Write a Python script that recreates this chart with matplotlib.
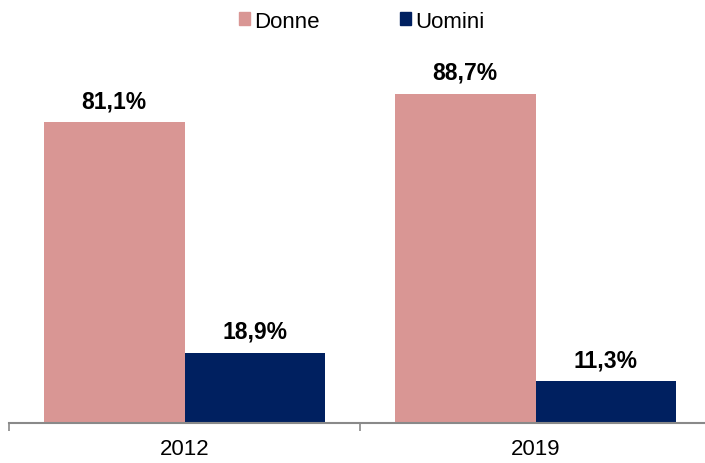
import matplotlib
matplotlib.use("Agg")
import matplotlib.pyplot as plt
import numpy as np
from matplotlib.patches import Patch

categories = ["2012", "2019"]
donne = [81.1, 88.7]
uomini = [18.9, 11.3]
labels_donne = ["81,1%", "88,7%"]
labels_uomini = ["18,9%", "11,3%"]

plt.rcParams['font.family'] = ['Liberation Sans', 'DejaVu Sans']

fig = plt.figure(figsize=(7.05, 4.64), dpi=100)
ax = fig.add_axes([9/705, 1-424/464, 702/705, 371/464])

x = np.arange(len(categories))
w = 0.4
c1, c2 = "#D99694", "#002060"
ax.bar(x - w/2, donne, w, color=c1)
ax.bar(x + w/2, uomini, w, color=c2)

for xi, v, t in zip(x - w/2, donne, labels_donne):
    ax.annotate(t, (xi, v), xytext=(0, 10), textcoords="offset pixels",
                ha="center", va="bottom", fontsize=16.5, fontweight="bold")
for xi, v, t in zip(x + w/2, uomini, labels_uomini):
    ax.annotate(t, (xi, v), xytext=(0, 10), textcoords="offset pixels",
                ha="center", va="bottom", fontsize=16.5, fontweight="bold")

ax.set_xlim(-0.5, 1.5)
ax.set_ylim(0, 100)
for s in ["top", "right", "left"]:
    ax.spines[s].set_visible(False)
ax.spines["bottom"].set_color("#898989")
ax.spines["bottom"].set_linewidth(1.5)
ax.set_yticks([])
ax.set_xticks([-0.5, 0.5, 1.5])
ax.set_xticklabels([])
ax.set_xticks(x, minor=True)
ax.set_xticklabels(categories, minor=True, fontsize=16)
ax.tick_params(axis="x", which="major", length=6, color="#898989", width=1.2)
ax.tick_params(axis="x", which="minor", length=0, pad=11)

handles = [Patch(color=c1, label="Donne"), Patch(color=c2, label="Uomini")]
fig.legend(handles=handles, loc="center", bbox_to_anchor=(362/705, 1-22/464), ncol=2,
           frameon=False, fontsize=16, handlelength=0.5, handleheight=0.5,
           handletextpad=0.2, columnspacing=3.6, borderpad=0.1)

fig.savefig("out.png", dpi=100)
